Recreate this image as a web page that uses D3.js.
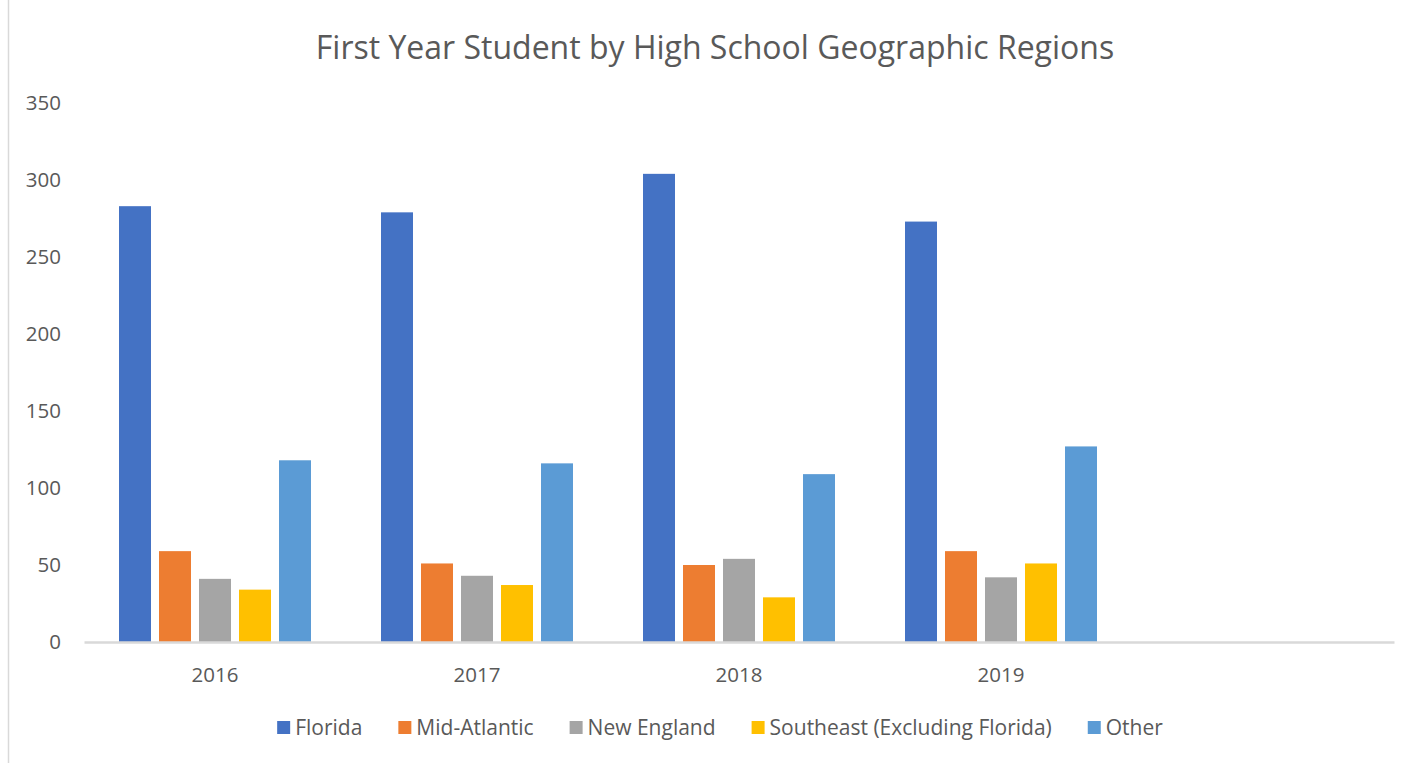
<!DOCTYPE html>
<html>
<head>
<meta charset="utf-8">
<script src="https://cdn.jsdelivr.net/npm/d3@7"></script>
<style>
  body { margin: 0; background: #fff; }
  text { font-family: "Open Sans", sans-serif; fill: #595959; }
</style>
</head>
<body>
<div id="chart"></div>
<script>
// data
var years = ["2016", "2017", "2018", "2019", ""];
var regions = ["Florida", "Mid-Atlantic", "New England", "Southeast (Excluding Florida)", "Other"];
var florida = [283, 279, 304, 273];
var midAtlantic = [59, 51, 50, 59];
var newEngland = [41, 43, 54, 42];
var southeast = [34, 37, 29, 51];
var other = [118, 116, 109, 127];
var yTicks = [0, 50, 100, 150, 200, 250, 300, 350];
var colors = ["#4472c4", "#ed7d31", "#a5a5a5", "#ffc000", "#5b9bd5"];

var seriesValues = [florida, midAtlantic, newEngland, southeast, other];

var W = 1406, H = 763;
var margin = {top: 103, right: 12, bottom: 121, left: 84};

var svg = d3.select("#chart").append("svg")
    .attr("width", W)
    .attr("height", H);

// chart frame
svg.append("line")
    .attr("x1", 8.5).attr("x2", 8.5)
    .attr("y1", 0).attr("y2", H)
    .style("stroke", "#d9d9d9")
    .style("stroke-width", 1.5);

// scales
var x0 = d3.scaleBand().domain(years).range([margin.left, W - margin.right]);
var x1 = d3.scaleBand().domain(regions).range([0, x0.bandwidth()])
    .paddingInner(0.2).paddingOuter(0.875);
var y = d3.scaleLinear().domain([0, 350]).range([H - margin.bottom, margin.top]);

// title
svg.append("text")
    .attr("x", 715)
    .attr("y", 59)
    .attr("text-anchor", "middle")
    .style("font-size", "32px")
    .text("First Year Student by High School Geographic Regions");

// y axis labels (no line)
var yAxis = svg.append("g")
    .attr("transform", "translate(" + 61 + ",0)")
    .call(d3.axisLeft(y).tickValues(yTicks).tickSize(0).tickPadding(0));
yAxis.select(".domain").remove();
yAxis.selectAll("text")
    .style("font-size", "20.5px")
    .style("font-family", "Open Sans, sans-serif")
    .attr("fill", "#595959");

// bars
var rows = [];
regions.forEach(function(r, i) {
    seriesValues[i].forEach(function(v, j) {
        rows.push({region: r, year: years[j], value: v, color: colors[i]});
    });
});

svg.selectAll("rect.bar")
    .data(rows)
    .enter().append("rect")
    .attr("class", "bar")
    .attr("x", function(d) { return x0(d.year) + x1(d.region); })
    .attr("width", x1.bandwidth())
    .attr("y", function(d) { return y(d.value); })
    .attr("height", function(d) { return y(0) - y(d.value); })
    .style("fill", function(d) { return d.color; });

// x axis
var xAxis = svg.append("g")
    .attr("transform", "translate(0," + y(0) + ")")
    .call(d3.axisBottom(x0).tickSize(0).tickPadding(25));
xAxis.select(".domain")
    .style("stroke", "#d9d9d9")
    .style("stroke-width", 2.5);
xAxis.selectAll("text")
    .style("font-size", "20.5px")
    .style("font-family", "Open Sans, sans-serif")
    .attr("fill", "#595959");

// legend
var legend = svg.append("g");
var lx = 0;
regions.forEach(function(r, i) {
    var item = legend.append("g").attr("transform", "translate(" + lx + ",0)");
    item.append("rect")
        .attr("x", 0).attr("y", -14)
        .attr("width", 13).attr("height", 13)
        .style("fill", colors[i]);
    var t = item.append("text")
        .attr("x", 18)
        .attr("y", 0)
        .style("font-size", "21px")
        .text(r);
    lx += 18 + t.node().getComputedTextLength() + 36;
});
lx -= 36;
legend.attr("transform", "translate(" + (720 - lx / 2) + ",735)");
</script>
</body>
</html>
